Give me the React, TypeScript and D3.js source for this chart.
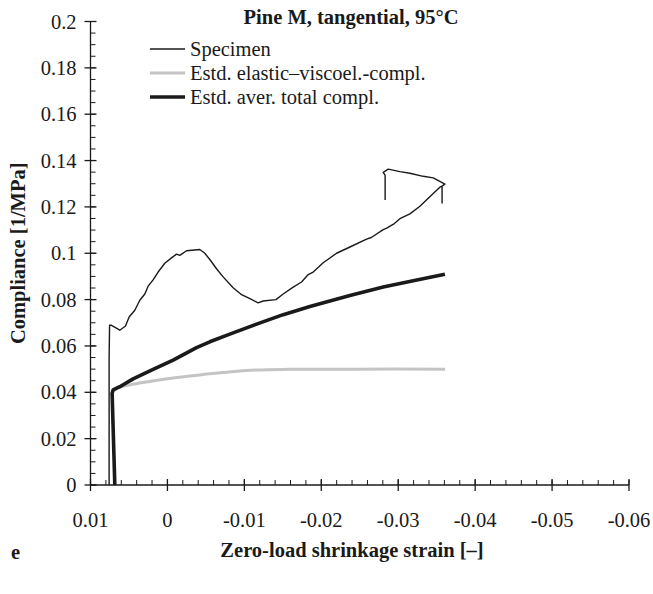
import React from "react";
import * as d3 from "d3";

const xTicks = [0.01, 0, -0.01, -0.02, -0.03, -0.04, -0.05, -0.06];
const xTickLabels = ["0.01", "0", "-0.01", "-0.02", "-0.03", "-0.04", "-0.05", "-0.06"];
const yTicks = [0, 0.02, 0.04, 0.06, 0.08, 0.1, 0.12, 0.14, 0.16, 0.18, 0.2];
const yTickLabels = ["0", "0.02", "0.04", "0.06", "0.08", "0.1", "0.12", "0.14", "0.16", "0.18", "0.2"];

const specimenX = [
  0.00758, 0.00758, 0.00752, 0.00727, 0.00619, 0.00545, 0.00498, 0.00424, 0.00359, 0.00294,
  0.00251, 0.00186, 0.00121, 0.00034, -0.00053, -0.00118, -0.00161, -0.00248, -0.00356, -0.00421,
  -0.00486, -0.00551, -0.00638, -0.00724, -0.00854, -0.00964, -0.01072, -0.01179, -0.01244, -0.0141,
  -0.01505, -0.01635, -0.01744, -0.0183, -0.01895, -0.02025, -0.02199, -0.02372, -0.02589, -0.0265,
  -0.02805, -0.0285, -0.0295, -0.03022, -0.03152, -0.03282, -0.03455, -0.03542, -0.0357, -0.0357,
  -0.0357, -0.03607, -0.03455, -0.03325, -0.03152, -0.03022, -0.0287, -0.02805, -0.0283, -0.0283,
];
const specimenY = [
  0, 0.055, 0.0689, 0.0689, 0.0668, 0.0686, 0.0725, 0.0754, 0.0797, 0.0824,
  0.0858, 0.0885, 0.0919, 0.0957, 0.098, 0.0996, 0.0991, 0.1011, 0.1014, 0.1016,
  0.1, 0.0973, 0.0933, 0.0898, 0.0851, 0.0821, 0.0804, 0.0786, 0.0794, 0.08,
  0.0824, 0.0854, 0.0876, 0.0908, 0.0919, 0.0959, 0.1, 0.1027, 0.1061, 0.1068,
  0.1102, 0.1108, 0.1128, 0.1149, 0.117, 0.1203, 0.1258, 0.1285, 0.129, 0.1217,
  0.129, 0.1298, 0.1325, 0.1332, 0.1345, 0.1352, 0.1363, 0.1349, 0.1336, 0.123,
];

const elasticX = [0.0071, 0.0065, 0.0049, 0.0023, -0.0003, -0.0042, -0.0072, -0.0116, -0.0159, -0.0246, -0.0361];
const elasticY = [0.0405, 0.0418, 0.0432, 0.0447, 0.046, 0.0475, 0.0485, 0.0496, 0.0499, 0.05, 0.05];

const totalX = [0.00684, 0.00719, 0.00706, 0.00619, 0.00446, 0.00186, -0.00074, -0.00378, -0.00551, -0.00811, -0.01159, -0.01505, -0.01852, -0.02372, -0.02805, -0.03195, -0.03607];
const totalY = [0, 0.0396, 0.041, 0.0424, 0.0458, 0.0499, 0.0539, 0.0593, 0.0618, 0.0651, 0.0694, 0.0735, 0.077, 0.0818, 0.0854, 0.0881, 0.0909];

const legendLabels = ["Specimen", "Estd. elastic\u2013viscoel.-compl.", "Estd. aver. total compl."];
const seriesColors = ["#1a1a1a", "#c4c4c4", "#1a1a1a"];
const seriesWidths = [1.4, 3, 3.6];

const FONT = "'Liberation Serif', 'Times New Roman', serif";
const FS = 20.5;

export default function App() {
  const W = 653, H = 594;
  const left = 90.5, right = 629, top = 21.5, bottom = 485;
  const x = d3.scaleLinear().domain([0.01, -0.06]).range([left, right]);
  const y = d3.scaleLinear().domain([0, 0.2]).range([bottom, top]);

  const mk = (xs: number[], ys: number[]) => xs.map((v, i) => [v, ys[i]] as [number, number]);
  const lineLin = d3.line<[number, number]>().x(d => x(d[0])).y(d => y(d[1]));
  const lineSmooth = d3.line<[number, number]>().x(d => x(d[0])).y(d => y(d[1])).curve(d3.curveCatmullRom.alpha(0.5));

  const xMinor = d3.range(0, 36).map(i => 0.01 - i * 0.002).filter(v => v >= -0.0601);
  const yMinor = d3.range(0, 41).map(i => i * 0.005);

  return (
    <svg width={W} height={H} style={{ display: "block", position: "absolute", left: 0, top: 0, background: "#fff" }} fontFamily={FONT}>
      <rect x={0} y={0} width={W} height={H} fill="#fff" />
      {/* title */}
      <text x={351} y={24} textAnchor="middle" fontSize={FS} fontWeight="bold" fill="#1a1a1a">Pine M, tangential, 95°C</text>

      {/* axes */}
      <line x1={left} x2={left} y1={y(0.2)} y2={bottom} stroke="#1a1a1a" strokeWidth={1.3} />
      <line x1={left} x2={right} y1={bottom} y2={bottom} stroke="#1a1a1a" strokeWidth={1.3} />
      {yMinor.map((v, i) => (
        <line key={"ym" + i} x1={left} x2={left + 5} y1={y(v)} y2={y(v)} stroke="#1a1a1a" strokeWidth={1} />
      ))}
      {yTicks.map((v, i) => (
        <g key={"yt" + i}>
          <line x1={left - 6} x2={left + 6} y1={y(v)} y2={y(v)} stroke="#1a1a1a" strokeWidth={1.3} />
          <text x={left - 14} y={y(v) + 7} textAnchor="end" fontSize={FS} fill="#1a1a1a">{yTickLabels[i]}</text>
        </g>
      ))}
      {xMinor.map((v, i) => (
        <line key={"xm" + i} x1={x(v)} x2={x(v)} y1={bottom} y2={bottom - 5} stroke="#1a1a1a" strokeWidth={1} />
      ))}
      {xTicks.map((v, i) => (
        <g key={"xt" + i}>
          <line x1={x(v)} x2={x(v)} y1={bottom - 6} y2={bottom + 6} stroke="#1a1a1a" strokeWidth={1.3} />
          <text x={x(v)} y={bottom + 42} textAnchor="middle" fontSize={FS} fill="#1a1a1a">{xTickLabels[i]}</text>
        </g>
      ))}

      {/* series */}
      <path d={lineLin(mk(specimenX, specimenY)) || ""} fill="none" stroke={seriesColors[0]} strokeWidth={seriesWidths[0]} strokeLinejoin="round" />
      <path d={lineSmooth(mk(elasticX, elasticY)) || ""} fill="none" stroke={seriesColors[1]} strokeWidth={seriesWidths[1]} strokeLinejoin="round" />
      <path d={lineLin(mk(totalX, totalY)) || ""} fill="none" stroke={seriesColors[2]} strokeWidth={seriesWidths[2]} strokeLinejoin="round" />

      {/* legend */}
      {legendLabels.map((lab, i) => (
        <g key={"lg" + i}>
          <line x1={150} x2={185} y1={49 + i * 24} y2={49 + i * 24} stroke={seriesColors[i]} strokeWidth={seriesWidths[i]} />
          <text x={190} y={49 + i * 24 + 7} fontSize={FS} fill="#1a1a1a">{lab}</text>
        </g>
      ))}

      {/* axis titles */}
      <text x={352} y={557} textAnchor="middle" fontSize={FS} fontWeight="bold" fill="#1a1a1a">Zero-load shrinkage strain [–]</text>
      <text transform={`translate(25, ${(top + bottom) / 2}) rotate(-90)`} textAnchor="middle" fontSize={FS} fontWeight="bold" fill="#1a1a1a">Compliance [1/MPa]</text>
      <text x={11} y={559} fontSize={FS} fontWeight="bold" fill="#1a1a1a">e</text>
    </svg>
  );
}
